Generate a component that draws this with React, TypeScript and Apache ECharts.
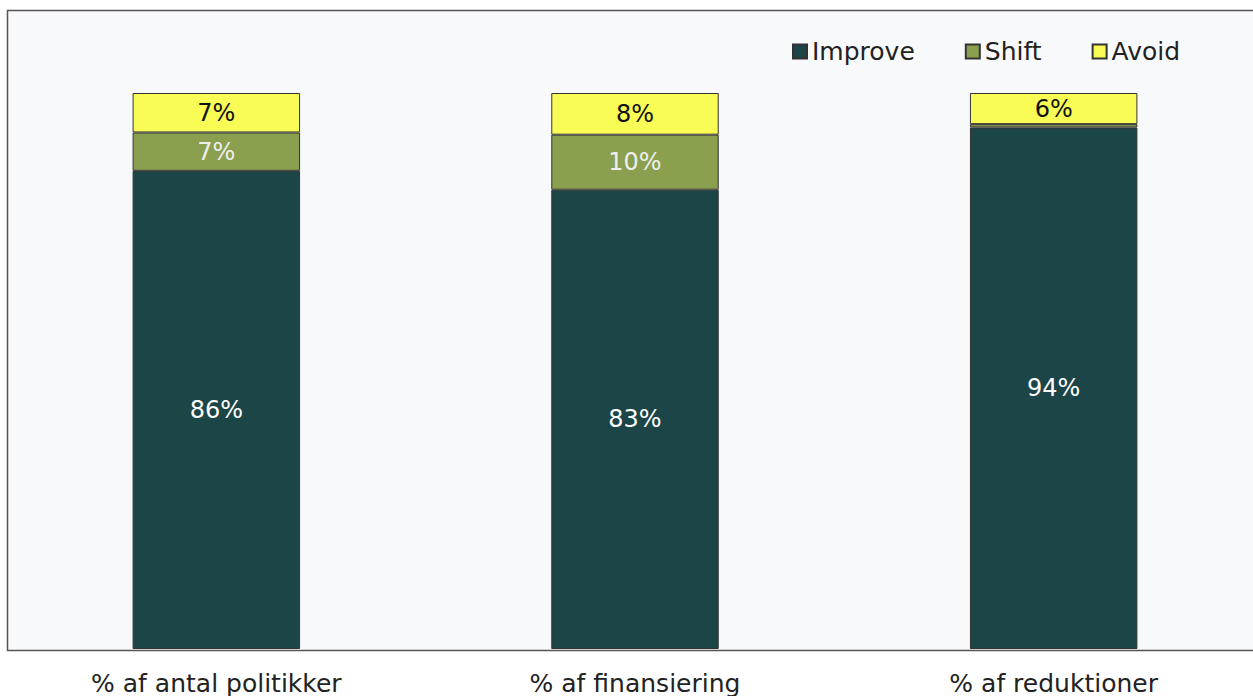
import React, { useEffect, useRef } from "react";
import * as echarts from "echarts";

const categories = ["% af antal politikker", "% af finansiering", "% af reduktioner"];
const improve = [86.0, 82.6, 93.8];
const shift = [6.9, 9.9, 0.6];
const avoid = [7.1, 7.5, 5.6];

const FONT = "'DejaVu Sans', 'Open Sans', sans-serif";

export default function App() {
  const ref = useRef<HTMLDivElement>(null);
  useEffect(() => {
    if (!ref.current) return;
    const chart = echarts.init(ref.current, undefined, { renderer: "svg" });
    const fmt = (p: any) => (p.value >= 1 ? Math.round(p.value) + "%" : "");
    const mk = (name: string, data: number[], color: string, labelColor: string) => ({
      name,
      type: "bar",
      stack: "total",
      data,
      barWidth: "40%",
      itemStyle: { color, borderColor: "#333", borderWidth: 1 },
      label: {
        show: true,
        position: "inside",
        formatter: fmt,
        color: labelColor,
        fontSize: 24,
        fontFamily: FONT,
      },
    });
    chart.setOption({
      animation: false,
      backgroundColor: "#ffffff",
      graphic: [
        {
          type: "rect",
          z: -10,
          shape: { x: 7.5, y: 10.5, width: 1260, height: 640 },
          style: { fill: "#f8f9fb", stroke: "#555", lineWidth: 1.5 },
          silent: true,
        },
      ],
      legend: {
        left: 787,
        top: 34,
        icon: "rect",
        itemWidth: 14,
        itemHeight: 14,
        itemGap: 50,
        textStyle: { fontSize: 25, color: "#222", fontFamily: FONT },
        data: ["Improve", "Shift", "Avoid"],
      },
      grid: { left: 7, right: 0, top: 93, bottom: 45, containLabel: false },
      xAxis: {
        type: "category",
        data: categories,
        axisLine: { show: false },
        axisTick: { show: false },
        axisLabel: { fontSize: 25, color: "#222", margin: 22, fontFamily: FONT },
      },
      yAxis: {
        type: "value",
        min: 0,
        max: 100,
        show: false,
        splitLine: { show: false },
      },
      series: [
        mk("Improve", improve, "#1c4548", "#ffffff"),
        mk("Shift", shift, "#8aa04e", "#eeeeee"),
        mk("Avoid", avoid, "#f8fc55", "#111111"),
      ],
    });
    return () => chart.dispose();
  }, []);
  return (
    <div
      ref={ref}
      style={{ position: "fixed", left: 0, top: 0, width: 1263, height: 696 }}
    />
  );
}
